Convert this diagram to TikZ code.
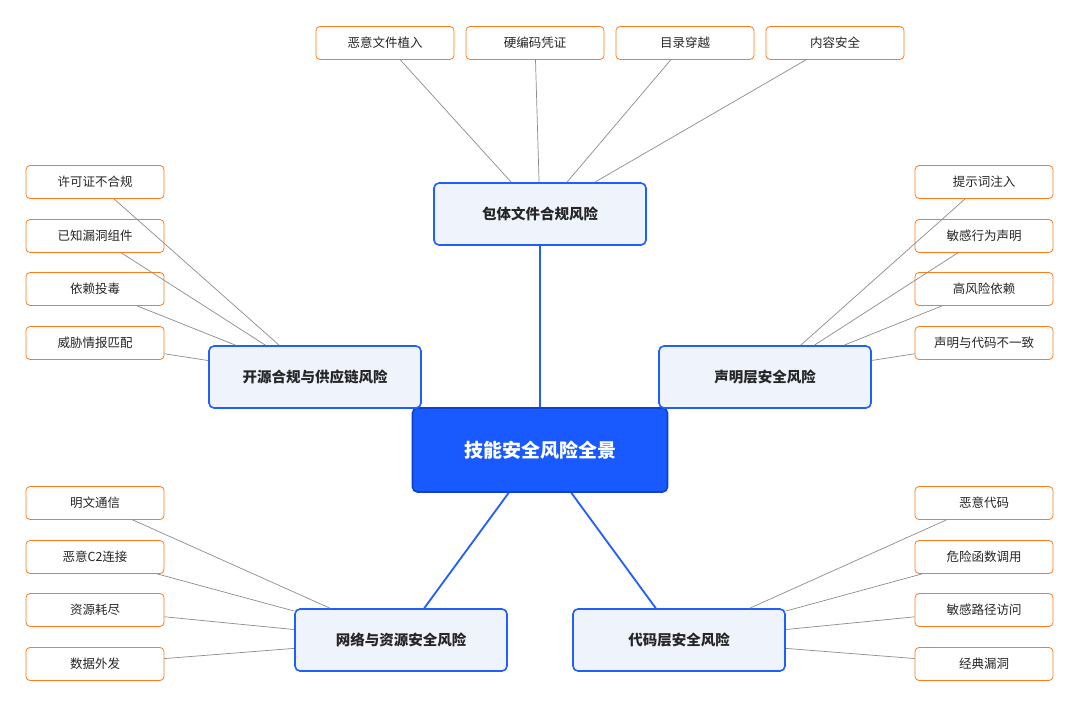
\documentclass[tikz,border=0pt]{standalone}
\usepackage{fontspec}
\setmainfont{Noto Sans CJK SC}
\begin{document}
\begin{tikzpicture}[x=1pt,y=-1pt,
  leaf/.style={draw=orange!85!red!90!white,line width=0.8pt,fill=white,rounded corners=4pt,minimum width=138pt,minimum height=33pt,inner sep=0pt,font=\fontsize{12.5}{14}\selectfont,text=black!85},
  mid/.style={draw=blue!70!cyan!60!blue,draw={rgb,255:red,31;green,94;blue,255},line width=1.6pt,fill={rgb,255:red,238;green,243;blue,252},rounded corners=5pt,minimum width=212pt,minimum height=62pt,inner sep=0pt,font=\fontsize{14.5}{16}\selectfont\bfseries,text=black!85},
  core/.style={draw={rgb,255:red,18;green,64;blue,200},line width=1.6pt,fill={rgb,255:red,24;green,90;blue,255},rounded corners=5pt,minimum width=255pt,minimum height=84pt,inner sep=0pt,font=\fontsize{19}{21}\selectfont\bfseries,text=white},
  thin/.style={draw=black!45,line width=0.7pt},
  thick/.style={draw={rgb,255:red,31;green,94;blue,255},line width=1.8pt}]
\useasboundingbox (0,0) rectangle (1080,707);
\fill[white] (0,0) rectangle (1080,707);
\node[core] (c) at (540,450) {技能安全风险全景};
\node[mid] (t) at (540,214) {包体文件合规风险};
\node[mid] (l) at (315,377) {开源合规与供应链风险};
\node[mid] (r) at (765,377) {声明层安全风险};
\node[mid] (bl) at (401,640) {网络与资源安全风险};
\node[mid] (br) at (679,640) {代码层安全风险};
\node[leaf] (t1) at (385,43) {恶意文件植入};
\node[leaf] (t2) at (535,43) {硬编码凭证};
\node[leaf] (t3) at (685,43) {目录穿越};
\node[leaf] (t4) at (835,43) {内容安全};
\node[leaf] (l1) at (95,182) {许可证不合规};
\node[leaf] (l2) at (95,236) {已知漏洞组件};
\node[leaf] (l3) at (95,289) {依赖投毒};
\node[leaf] (l4) at (95,343) {威胁情报匹配};
\node[leaf] (r1) at (984,182) {提示词注入};
\node[leaf] (r2) at (984,236) {敏感行为声明};
\node[leaf] (r3) at (984,289) {高风险依赖};
\node[leaf] (r4) at (984,343) {声明与代码不一致};
\node[leaf] (b1) at (95,503) {明文通信};
\node[leaf] (b2) at (95,557) {恶意C2连接};
\node[leaf] (b3) at (95,610) {资源耗尽};
\node[leaf] (b4) at (95,664) {数据外发};
\node[leaf] (d1) at (984,503) {恶意代码};
\node[leaf] (d2) at (984,557) {危险函数调用};
\node[leaf] (d3) at (984,610) {敏感路径访问};
\node[leaf] (d4) at (984,664) {经典漏洞};
\foreach \a/\b in {t1/t,t2/t,t3/t,t4/t,l1/l,l2/l,l3/l,l4/l,r1/r,r2/r,r3/r,r4/r,b1/bl,b2/bl,b3/bl,b4/bl,d1/br,d2/br,d3/br,d4/br}
  \draw[thin] (\a) -- (\b);
\foreach \b in {t,bl,br}
  \draw[thick] (c) -- (\b);
\end{tikzpicture}
\end{document}
